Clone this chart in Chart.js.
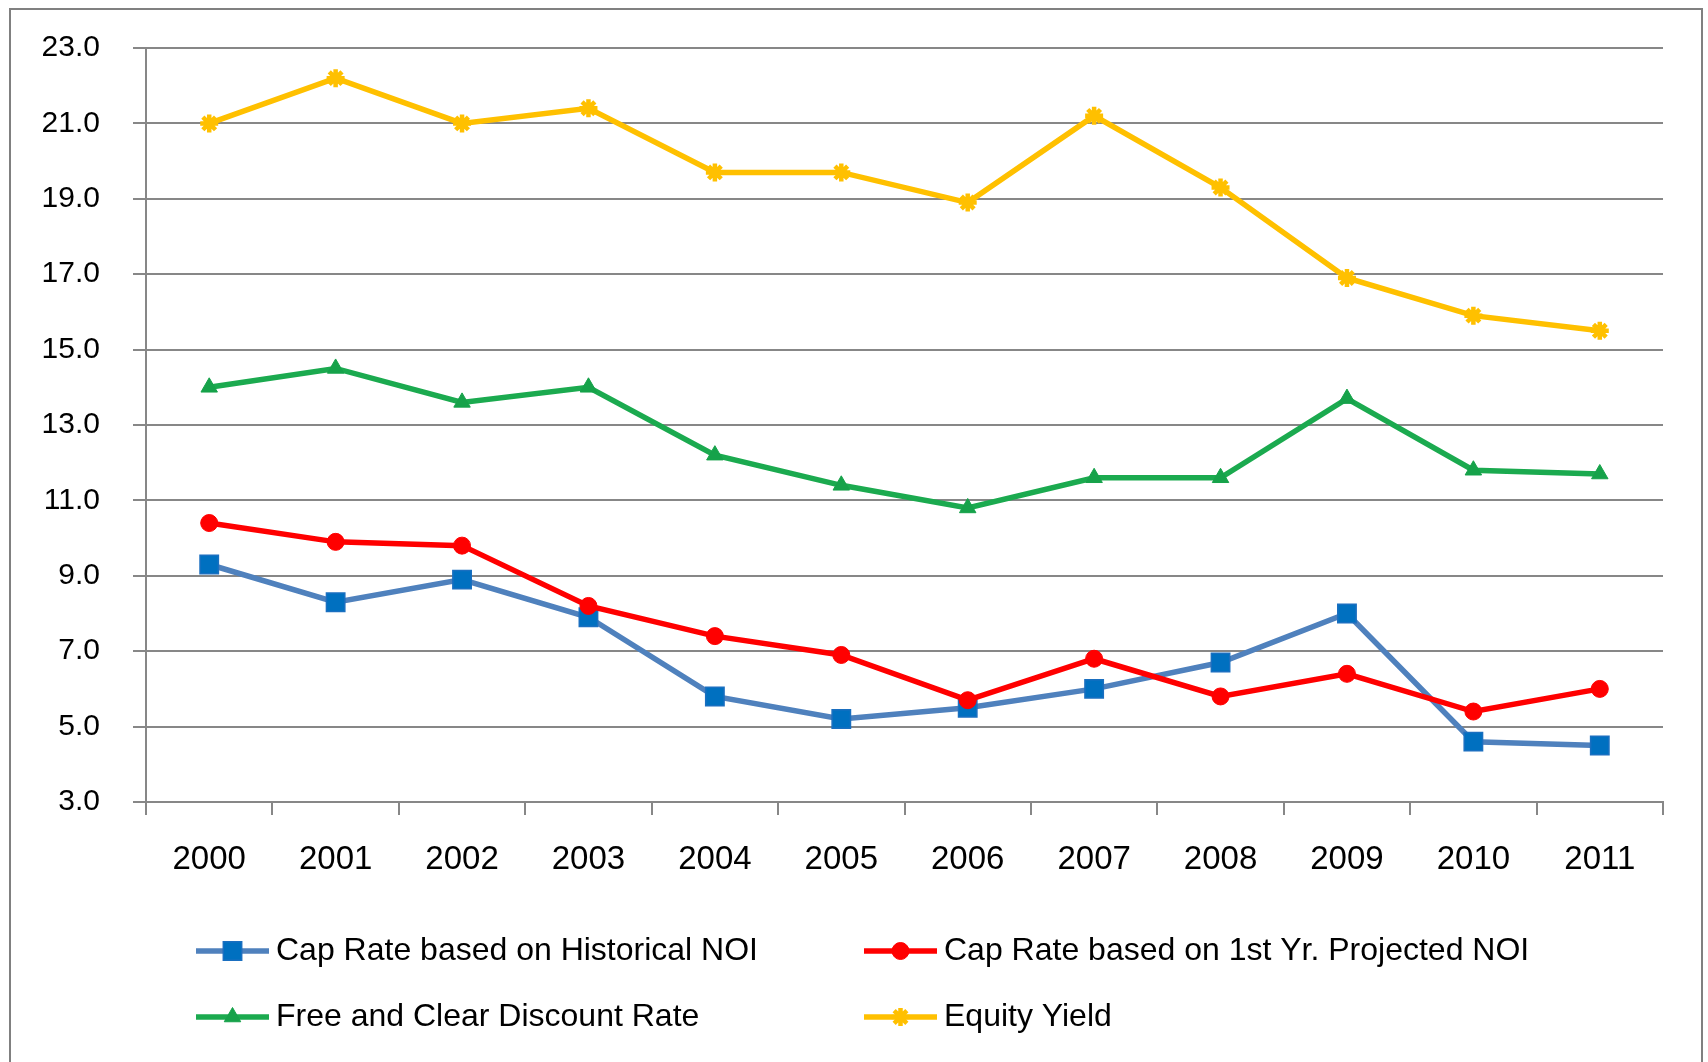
<!DOCTYPE html>
<html>
<head>
<meta charset="utf-8">
<script src="https://cdn.jsdelivr.net/npm/chart.js@4.4.1/dist/chart.umd.min.js"></script>
<style>
  html, body { margin: 0; padding: 0; background: #ffffff; }
  #wrap { width: 1708px; height: 1062px; position: relative; }
</style>
</head>
<body>
<div id="wrap"><canvas id="c" width="1708" height="1062"></canvas></div>
<script>
const years = ['2000','2001','2002','2003','2004','2005','2006','2007','2008','2009','2010','2011'];
const capRateHistorical = [9.3, 8.3, 8.9, 7.9, 5.8, 5.2, 5.5, 6.0, 6.7, 8.0, 4.6, 4.5];
const capRateProjected  = [10.4, 9.9, 9.8, 8.2, 7.4, 6.9, 5.7, 6.8, 5.8, 6.4, 5.4, 6.0];
const freeAndClear      = [14.0, 14.5, 13.6, 14.0, 12.2, 11.4, 10.8, 11.6, 11.6, 13.7, 11.8, 11.7];
const equityYield       = [21.0, 22.2, 21.0, 21.4, 19.7, 19.7, 18.9, 21.2, 19.3, 16.9, 15.9, 15.5];
const seriesLabels = [
  'Cap Rate based on Historical NOI',
  'Cap Rate based on 1st Yr. Projected NOI',
  'Free and Clear Discount Rate',
  'Equity Yield'
];
const yMin = 3, yMax = 23, yStep = 2;

const FONT = '"Liberation Sans", Arial, sans-serif';
const GRID = '#878787';

const frame = {
  id: 'frame',
  beforeDraw(chart) {
    const ctx = chart.ctx;
    ctx.save();
    ctx.fillStyle = '#ffffff';
    ctx.fillRect(0, 0, chart.width, chart.height);
    ctx.strokeStyle = '#808080';
    ctx.lineWidth = 2;
    ctx.strokeRect(10, 9, 1692, 1080);
    ctx.restore();
  }
};

const customLegend = {
  id: 'customLegend',
  afterDraw(chart) {
    const ctx = chart.ctx;
    const cols = [196, 864];
    const rows = [951, 1017];
    const lineLen = 73;
    ctx.save();
    chart.data.datasets.forEach((ds, i) => {
      const x = cols[i % 2];
      const y = rows[Math.floor(i / 2)];
      ctx.beginPath();
      ctx.strokeStyle = ds.borderColor;
      ctx.lineWidth = ds.borderWidth;
      ctx.moveTo(x, y);
      ctx.lineTo(x + lineLen, y);
      ctx.stroke();
      ctx.fillStyle = ds.pointBackgroundColor;
      ctx.strokeStyle = ds.pointBorderColor;
      ctx.lineWidth = ds.pointBorderWidth;
      Chart.helpers.drawPoint(ctx, {
        pointStyle: ds.pointStyle,
        radius: ds.pointRadius,
        rotation: 0,
        borderWidth: ds.pointBorderWidth
      }, x + lineLen / 2, y);
      ctx.fillStyle = '#000000';
      ctx.font = '32px ' + FONT;
      ctx.textBaseline = 'middle';
      ctx.textAlign = 'left';
      ctx.fillText(ds.label, x + lineLen + 7, y);
    });
    ctx.restore();
  }
};

new Chart(document.getElementById('c'), {
  type: 'line',
  data: {
    labels: years,
    datasets: [
      {
        label: seriesLabels[0], data: capRateHistorical, order: 4,
        borderColor: '#4F81BD', borderWidth: 5.5,
        pointStyle: 'rect', pointRadius: 13, pointBorderWidth: 1.5,
        pointBackgroundColor: '#0070C0', pointBorderColor: '#1a6fc0',
        tension: 0
      },
      {
        label: seriesLabels[1], data: capRateProjected, order: 3,
        borderColor: '#FF0000', borderWidth: 5.5,
        pointStyle: 'circle', pointRadius: 8.5, pointBorderWidth: 1,
        pointBackgroundColor: '#FF0000', pointBorderColor: '#FF0000',
        tension: 0
      },
      {
        label: seriesLabels[2], data: freeAndClear, order: 2,
        borderColor: '#1BAA4F', borderWidth: 5.5,
        pointStyle: 'triangle', pointRadius: 9.5, pointBorderWidth: 1,
        pointBackgroundColor: '#16A24A', pointBorderColor: '#16A24A',
        tension: 0
      },
      {
        label: seriesLabels[3], data: equityYield, order: 1,
        borderColor: '#FFC000', borderWidth: 5.5,
        pointStyle: 'star', pointRadius: 9, pointBorderWidth: 4.5,
        pointBackgroundColor: '#FFC000', pointBorderColor: '#FFC000',
        tension: 0
      }
    ]
  },
  options: {
    responsive: false,
    animation: false,
    devicePixelRatio: 1,
    layout: { padding: { left: 0, right: 45, top: 48, bottom: 0 } },
    plugins: {
      legend: { display: false },
      tooltip: { enabled: false },
      title: { display: false }
    },
    scales: {
      x: {
        offset: true,
        afterFit(scale) { scale.height = 260; },
        grid: {
          offset: true, drawOnChartArea: false, drawTicks: true,
          tickLength: 13, color: GRID, lineWidth: 2
        },
        border: { display: true, color: GRID, width: 2 },
        ticks: {
          color: '#000000', padding: 25,
          font: { family: FONT, size: 33 },
          maxRotation: 0, autoSkip: false
        }
      },
      y: {
        min: yMin, max: yMax,
        afterFit(scale) { scale.width = 146; scale.paddingTop = 0; scale.paddingBottom = 0; },
        grid: {
          drawOnChartArea: true, drawTicks: true,
          tickLength: 13, color: GRID, lineWidth: 2
        },
        border: { display: true, color: GRID, width: 2 },
        ticks: {
          stepSize: yStep, color: '#000000', padding: 33,
          font: { family: FONT, size: 30 },
          callback: v => Number(v).toFixed(1)
        }
      }
    }
  },
  plugins: [frame, customLegend]
});
</script>
</body>
</html>
